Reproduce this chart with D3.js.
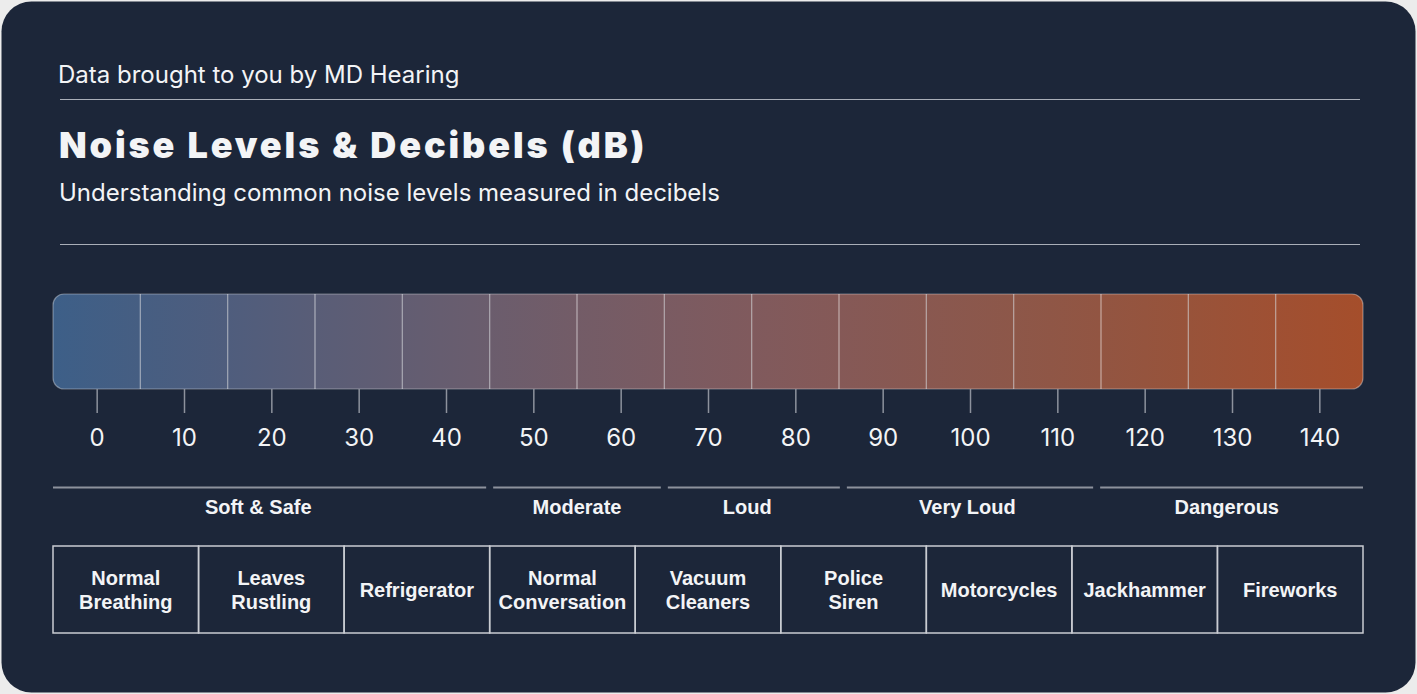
<!DOCTYPE html>
<html>
<head>
<meta charset="utf-8">
<script src="https://cdn.jsdelivr.net/npm/d3@7.9.0/dist/d3.min.js"></script>
<style>
  html, body { margin: 0; padding: 0; background: #ececec; }
  svg { display: block; }
</style>
</head>
<body>
<svg id="chart" width="1417" height="694"></svg>
<script>
// data
const dbTicks = [0, 10, 20, 30, 40, 50, 60, 70, 80, 90, 100, 110, 120, 130, 140];
const categoryNames = ['Soft & Safe', 'Moderate', 'Loud', 'Very Loud', 'Dangerous'];
const categoryFrom = [-5, 45, 65, 85.5, 114.5];
const categoryTo = [45, 65, 85.5, 114.5, 145];
const categoryLabelAt = [18.5, 55, 74.5, 99.7, 129.4];
const sourceNames = ['Normal\nBreathing', 'Leaves\nRustling', 'Refrigerator', 'Normal\nConversation',
  'Vacuum\nCleaners', 'Police\nSiren', 'Motorcycles', 'Jackhammer', 'Fireworks'];

const svg = d3.select('#chart');
const W = 1417, H = 694;
const textColor = '#f3f4f6';
const ruleColor = '#a9aeb8';

// card
svg.append('rect')
  .attr('x', 1.5).attr('y', 1.5)
  .attr('width', W - 3).attr('height', H - 3)
  .attr('rx', 30)
  .attr('fill', '#1c2639');

// header
svg.append('text')
  .attr('x', 58).attr('y', 83)
  .attr('fill', textColor)
  .style('font', '400 24px Inter')
  .text('Data brought to you by MD Hearing');

svg.append('line')
  .attr('x1', 60).attr('x2', 1360).attr('y1', 99.5).attr('y2', 99.5)
  .attr('stroke', ruleColor).attr('stroke-width', 1.2);

svg.append('text')
  .attr('x', 59).attr('y', 158)
  .attr('fill', textColor)
  .style('font', '900 36px Inter')
  .style('letter-spacing', '2.9px')
  .text('Noise Levels & Decibels (dB)');

svg.append('text')
  .attr('x', 59).attr('y', 201)
  .attr('fill', textColor)
  .style('font', '400 24px Inter')
  .text('Understanding common noise levels measured in decibels');

svg.append('line')
  .attr('x1', 60).attr('x2', 1360).attr('y1', 244.5).attr('y2', 244.5)
  .attr('stroke', ruleColor).attr('stroke-width', 1.2);

// scale
const x = d3.scaleLinear().domain([-5, 145]).range([53, 1363]);
const color = d3.scaleLinear()
  .domain([-5, 20, 50, 80, 110, 145])
  .range(['#3d5f88', '#545d7a', '#705d6a', '#83595a', '#8f5646', '#a54e2b']);

const barTop = 294, barH = 95;
const defs = svg.append('defs');

defs.append('clipPath').attr('id', 'barClip')
  .append('rect')
  .attr('x', x(-5)).attr('y', barTop)
  .attr('width', x(145) - x(-5)).attr('height', barH)
  .attr('rx', 11);

const grads = defs.selectAll('linearGradient')
  .data(dbTicks)
  .enter()
  .append('linearGradient')
  .attr('id', (d, i) => 'cell' + i)
  .attr('x1', 0).attr('x2', 1).attr('y1', 0).attr('y2', 0);
grads.append('stop').attr('offset', 0).attr('stop-color', d => color(d - 5));
grads.append('stop').attr('offset', 1).attr('stop-color', d => color(d + 5));

const bar = svg.append('g').attr('clip-path', 'url(#barClip)');
bar.selectAll('rect.cell')
  .data(dbTicks)
  .enter()
  .append('rect')
  .attr('class', 'cell')
  .attr('x', d => x(d - 5))
  .attr('y', barTop)
  .attr('width', d => x(d + 5) - x(d - 5))
  .attr('height', barH)
  .attr('fill', (d, i) => `url(#cell${i})`);

// dividers between cells
bar.selectAll('line.divider')
  .data(dbTicks.slice(1))
  .enter()
  .append('line')
  .attr('class', 'divider')
  .attr('x1', d => x(d - 5)).attr('x2', d => x(d - 5))
  .attr('y1', barTop).attr('y2', barTop + barH)
  .attr('stroke', 'rgba(255,255,255,0.5)')
  .attr('stroke-width', 1.2);

svg.append('rect')
  .attr('x', x(-5)).attr('y', barTop)
  .attr('width', x(145) - x(-5)).attr('height', barH)
  .attr('rx', 11)
  .attr('fill', 'none')
  .attr('stroke', 'rgba(255,255,255,0.35)')
  .attr('stroke-width', 1.2);

// axis
const axis = svg.append('g')
  .attr('transform', `translate(0,${barTop + barH})`)
  .call(d3.axisBottom(x).tickValues(dbTicks).tickSize(24).tickPadding(16).tickSizeOuter(0));
axis.select('.domain').remove();
axis.selectAll('.tick line').attr('stroke', '#8d929d').attr('stroke-width', 1.5);
axis.selectAll('.tick text')
  .attr('fill', textColor)
  .style('font', '400 24px Inter');

// category ranges
const gap = 3.5;
const cats = svg.append('g');
categoryNames.forEach((name, i) => {
  const x0 = x(categoryFrom[i]) + (i === 0 ? 0 : gap);
  const x1 = x(categoryTo[i]) - (i === categoryNames.length - 1 ? 0 : gap);
  cats.append('line')
    .attr('x1', x0).attr('x2', x1)
    .attr('y1', 487.5).attr('y2', 487.5)
    .attr('stroke', '#8d929d').attr('stroke-width', 2);
  cats.append('text')
    .attr('x', x(categoryLabelAt[i])).attr('y', 514)
    .attr('text-anchor', 'middle')
    .attr('fill', textColor)
    .style('font', '700 20px "Liberation Sans", Arial, sans-serif')
    .text(name);
});

// sources
const band = d3.scaleBand().domain(sourceNames).range([53, 1363]).padding(0);
const boxTop = 546, boxH = 87;
const boxes = svg.append('g');
boxes.selectAll('rect')
  .data(sourceNames)
  .enter()
  .append('rect')
  .attr('x', d => band(d))
  .attr('y', boxTop)
  .attr('width', band.bandwidth())
  .attr('height', boxH)
  .attr('fill', 'none')
  .attr('stroke', '#c9ccd2')
  .attr('stroke-width', 1.5);

boxes.selectAll('text')
  .data(sourceNames)
  .enter()
  .append('text')
  .attr('text-anchor', 'middle')
  .attr('fill', textColor)
  .style('font', '700 20px "Liberation Sans", Arial, sans-serif')
  .each(function(d) {
    const lines = d.split('\n');
    const cx = band(d) + band.bandwidth() / 2;
    const cy = boxTop + boxH / 2;
    d3.select(this).selectAll('tspan')
      .data(lines)
      .enter()
      .append('tspan')
      .attr('x', cx)
      .attr('y', (l, j) => cy + 7 + (j - (lines.length - 1) / 2) * 24)
      .text(l => l);
  });
</script>
</body>
</html>
